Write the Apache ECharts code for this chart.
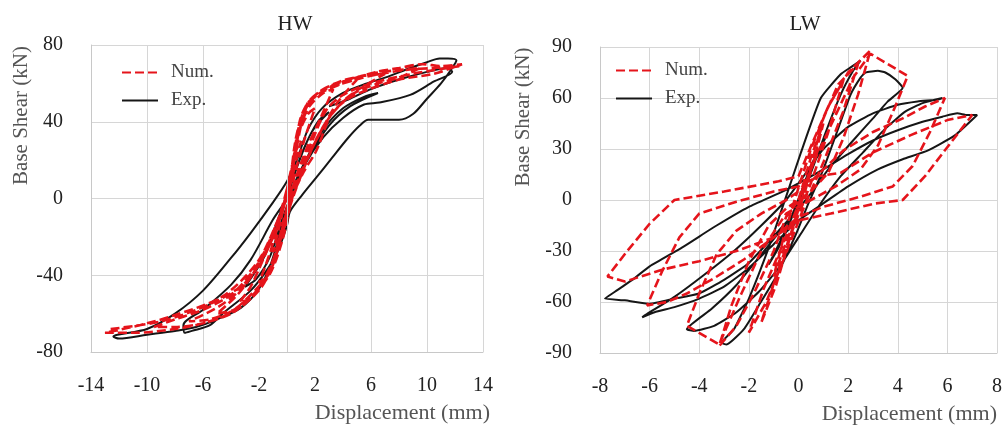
<!DOCTYPE html>
<html>
<head>
<meta charset="utf-8">
<script src="https://cdn.jsdelivr.net/npm/echarts@6/dist/echarts.min.js"></script>
<style>
html,body{margin:0;padding:0;background:#fff;}
#chart{width:1005px;height:430px;}
</style>
</head>
<body>
<div id="chart"></div>
<script>
// ---------- Data ----------
const panelTitles = ['HW', 'LW'];
const seriesNames = ['Num.', 'Exp.'];
const xTitle = 'Displacement (mm)';
const yTitle = 'Base Shear (kN)';

// HW panel: displacement (mm), base shear (kN)
const hwNum = [
  [0,0],[0.4,12],[1,30],
  [0.6,24],[0,5],[-0.4,-10],[-1,-28],
  [-0.6,-22],[0,-6],[0.6,14],[1.3,32],[2,47],
  [1.5,44],[0.8,33],[0.2,10],[-0.5,-10],[-1.2,-28],[-2,-44],
  [-1.5,-40],[-0.8,-28],[-0.2,-10],[0.5,8],[1.4,26],[2.4,42],[3.3,57],
  [2.6,55],[1.6,48],[0.9,36],[0.2,8],[-0.6,-13],[-1.6,-30],[-2.6,-46],[-3.4,-54],
  [-2.6,-52],[-1.4,-40],[-0.5,-20],[0.3,0],[1.4,20],[2.5,36],[3.6,50],[5,62],
  [4,60],[2.8,57],[1.6,50],[0.9,38],[0.2,6],[-0.7,-14],[-1.9,-33],[-3.4,-49],[-5,-60],
  [-3.8,-58],[-2.4,-50],[-1.2,-37],[-0.3,-18],[0.4,2],[1.5,22],[2.8,40],[4.2,52],[5.6,59],[7,65],
  [5.5,64],[3.8,61],[2.2,55],[1.3,46],[0.5,20],[-0.5,-8],[-1.6,-28],[-3,-45],[-4.8,-56],[-7,-64],
  [-5.5,-63],[-3.8,-58],[-2.3,-48],[-1.2,-38],[-0.4,-20],[0.4,0],[1.8,26],[3,42],[4.6,54],[6.5,60],[8,63],[9.5,68],
  [8,67],[6,65],[4,61],[2.6,57],[1.5,50],[0.8,36],[0.1,4],[-0.8,-14],[-2,-33],[-3.8,-49],[-6,-58],[-8,-63],[-9.5,-67],
  [-8,-67],[-6,-65],[-4,-60],[-2.6,-52],[-1.2,-39],[-0.3,-21],[0.4,1],[1.2,14],[2.1,25],[3.1,43],[4,50],[5.2,55],[8,62],[10.5,65],[12.5,70],
  [11,69],[9.7,70],[8,68],[6.4,66],[4.5,62],[3.3,59],[2,53],[1.2,46],[0.6,30],[0.1,4],[-0.7,-12],[-2.1,-33],[-4.6,-51],[-8.1,-61],[-10.5,-66],[-13,-70],
  [-11,-70],[-8,-68],[-5.5,-64],[-3.4,-57],[-1.8,-46],[-0.8,-30],[0,-10],[0.8,12],[1.8,30],[2.8,46],[4,54],[6,60],[9,65],[12.3,69],
  [10.5,68],[8.5,67],[6,64],[4,60],[2.4,55],[1.5,50],[0.9,40],[0.3,12],[-0.5,-10],[-1.5,-28],[-3,-44],[-5.5,-55],[-9,-64],[-12.6,-68]
];
const hwExp = [
  [0,0],[0.8,18],[1.8,35],[3,45],
  [2.2,40],[1.2,26],[0.3,8],[-0.6,-10],[-1.6,-30],[-3,-46],
  [-2.2,-42],[-1.2,-30],[-0.4,-12],[0.5,5],[1.6,22],[3,38],[4.5,48],[6.5,55],
  [5.5,53],[4,47],[2.6,36],[1.2,18],[0,0],[-1,-11],[-2.6,-32],[-4,-45],[-6,-58],[-7.4,-66],[-7.3,-70],[-6.8,-69],
  [-5.5,-66],[-4.6,-60],[-2.6,-48],[-1.5,-38],[-0.7,-28],[0,-14],[0.2,-7],[1.1,2],[2.1,11],[3.2,21],[4.3,31],[5.2,38],[5.8,41],[6.5,41],[8,41],[9,44],[10,52],[11,60],[11.7,67],[12.1,72],
  [11.5,73],[10.9,73],[10,71],[8.8,68],[7,63],[5.7,60],[4,55],[2.5,47],[1.5,36],[0.7,20],[0,9],[-1,-2],[-2.6,-18],[-4,-31],[-6,-48],[-8,-60],[-10,-68],[-12.4,-72],
  [-12,-73],[-10,-71],[-8,-69],[-6.5,-67],[-5,-63],[-3.3,-57],[-2,-47],[-1.1,-33],[-0.4,-15],[0.4,3],[1.3,18],[2.6,32],[4,42],[5.5,49],[6.6,50],[8.8,54],[10.5,61],[11.8,66],
  [11.5,68],[10,66],[8,62],[6,57],[4.5,52],[3,48]
];

// LW panel: displacement (mm), base shear (kN)
const lwNum = [
  [0,0],[0.5,25],[1,45],
  [0.6,22],[0.2,2],[-0.5,-25],[-1,-45],
  [-0.6,-22],[-0.2,-2],[0.5,30],[1.2,55],[2,75],[2.9,88],
  [2.4,62],[1.8,36],[1.2,16],[0.5,5],[0,0],[-0.5,-10],[-1,-30],[-1.8,-55],[-2.5,-74],[-3.2,-86],
  [-2.7,-62],[-2,-36],[-1.2,-15],[-0.5,-5],[0,0],[0.7,25],[1.5,50],[2.2,72],[2.9,86],[4.4,73],
  [3.9,55],[3.2,32],[2.5,18],[1.5,8],[0.5,0],[-0.5,-8],[-1.5,-30],[-2.3,-55],[-2.9,-75],[-3.2,-85],[-4.5,-74],
  [-4,-55],[-3.3,-32],[-2.5,-18],[-1.5,-8],[-0.5,0],[0.3,8],[1,18],[1.8,29],[3,40],[4.2,48],[5.1,55],[5.9,60],
  [5.3,40],[4.6,20],[3.8,8],[2.5,2],[1,-4],[0,-10],[-1,-22],[-2.2,-35],[-3.4,-46],[-4.5,-55],[-5.3,-60],[-6.1,-62],
  [-5.5,-42],[-4.8,-22],[-4,-8],[-2.5,-1],[-1,5],[0,8],[0.8,14],[1.7,16],[3,28],[4.5,38],[6,47],[7,50],
  [6.1,33],[5.1,14],[4.2,0],[3.1,-2],[1.3,-8],[0,-12],[-1,-22],[-2.5,-30],[-4,-36],[-5.5,-41],[-7,-48],[-7.7,-45],
  [-6.9,-30],[-6,-14],[-5,0],[-3,5],[-0.8,11],[0,14],[0.6,35],[1.2,55],[1.8,70],
  [1.2,40],[0.5,10],[-0.3,-20],[-0.9,-50],[-1.5,-72],
  [-0.9,-45],[-0.2,-15],[0.5,20],[1,48],[1.6,68],[2.4,80],
  [1.8,52],[1,22],[0.2,-5],[-0.6,-35],[-1.3,-60],[-2,-78],
  [-1.4,-52],[-0.6,-25],[0.2,5],[0.8,30]
];
const lwExp = [
  [0,0],[0.5,20],[1.2,40],
  [0.8,28],[0.2,8],[-0.4,-14],[-1.2,-38],
  [-0.8,-28],[-0.2,-8],[0.5,16],[1.1,40],[1.7,62],[2.2,76],[2.5,82],
  [2.1,78],[1.7,74],[0.9,60],[0.1,28],[-0.5,2],[-1.2,-28],[-2,-58],[-2.6,-76],[-3.1,-84],
  [-2.9,-85],[-2.2,-76],[-1.6,-62],[-0.9,-45],[-0.1,-20],[0.4,-2],[1,18],[1.6,42],[2.1,62],[2.5,72],[2.7,75],[3.2,76],[3.5,75],[3.9,71],[4.2,66],
  [3.6,58],[3,48],[2.2,35],[1.2,18],[0.4,2],[-0.5,-14],[-1.5,-32],[-2.5,-50],[-3.5,-64],[-4.5,-76],
  [-4.2,-77],[-3.4,-74],[-2.5,-66],[-1.6,-54],[-0.8,-40],[0,-22],[0.8,-4],[1.7,14],[2.6,28],[3.5,42],[4.3,52],[5,57],[5.8,60],
  [5.6,59],[4.8,58],[4,56],[3,51],[2,43],[1,30],[0.3,16],[-0.5,0],[-1.5,-15],[-2.6,-30],[-3.8,-44],[-5,-57],[-6.1,-67],[-6.3,-69],
  [-5.8,-66],[-5,-63],[-4,-58],[-3,-51],[-2,-40],[-1,-26],[0,-12],[1,-2],[2,8],[3.2,18],[4.2,24],[5.2,29],[6.3,38],[7.2,50],
  [6.8,50],[6.4,51],[5.8,49],[5,46],[4,41],[3,35],[2,27],[1,18],[-0.5,6],[-2,-4],[-3.3,-15],[-4.7,-28],[-6,-39],[-6.7,-47],[-7.4,-54],[-7.8,-58],
  [-7,-59],[-6,-61],[-5,-58],[-4,-55],[-3,-47],[-2,-37],[-0.8,-18],[0,-5]
];

// Axis ranges and tick steps
const hwX = {min:-14, max:14, step:4};
const hwY = {min:-80, max:80, step:40};
const lwX = {min:-8, max:8, step:2};
const lwY = {min:-90, max:90, step:30};

// ---------- Chart ----------
const serif = 'Liberation Serif';
const RED = '#e5141b';
const BLACK = '#161616';
const chart = echarts.init(document.getElementById('chart'), null, {renderer:'canvas'});

function xAxisCfg(idx, r, gap) {
  return {
    type:'value', gridIndex:idx, min:r.min, max:r.max, interval:r.step,
    name:xTitle, nameLocation:'end', nameGap:gap,
    nameTextStyle:{fontFamily:serif, fontSize:22, color:'#555', align:'right', verticalAlign:'top', padding:[50,0,0,0]},
    axisLine:{show:true, onZero:false, lineStyle:{color:'#c8c8c8', width:1}},
    axisTick:{show:false},
    axisLabel:{fontFamily:serif, fontSize:20, color:'#222', margin:24},
    splitLine:{show:true, lineStyle:{color:'#d6d6d6', width:1}}
  };
}
function yAxisCfg(idx, r, gap) {
  return {
    type:'value', gridIndex:idx, min:r.min, max:r.max, interval:r.step,
    name:yTitle, nameLocation:'middle', nameGap:gap,
    nameTextStyle:{fontFamily:serif, fontSize:21, color:'#555', padding:[0,0,0,166]},
    axisLine:{show:true, onZero:false, lineStyle:{color:'#c8c8c8', width:1}},
    axisTick:{show:false},
    axisLabel:{fontFamily:serif, fontSize:20, color:'#222', margin:28},
    splitLine:{show:true, lineStyle:{color:'#d6d6d6', width:1}}
  };
}
function numSeries(idx, data, smooth) {
  return {
    name:seriesNames[0], type:'line', xAxisIndex:idx, yAxisIndex:idx, data:data,
    symbol:'none', smooth:smooth, z:3,
    lineStyle:{color:RED, width:2.6, type:[9,4]}, itemStyle:{color:RED}
  };
}
function expSeries(idx, data, smooth, zeroLine) {
  const s = {
    name:seriesNames[1], type:'line', xAxisIndex:idx, yAxisIndex:idx, data:data,
    symbol:'none', smooth:smooth, z:2,
    lineStyle:{color:BLACK, width:2}, itemStyle:{color:BLACK}
  };
  if (zeroLine) {
    s.markLine = {silent:true, symbol:'none', label:{show:false},
      lineStyle:{color:'#d0d0d0', width:1, type:'solid'}, data:[{xAxis:0}]};
  }
  return s;
}

const legendCfg = (left, top) => ({
  left:left, top:top, orient:'vertical', itemWidth:36, itemHeight:14, itemGap:9,
  data:[seriesNames[0], seriesNames[1]],
  itemStyle:{opacity:0},
  textStyle:{fontFamily:serif, fontSize:19, color:'#444', padding:[0,0,0,8]}
});

chart.setOption({
  backgroundColor:'#ffffff',
  animation:false,
  title:[
    {text:panelTitles[0], left:290, top:9, textAlign:'center', textStyle:{fontFamily:serif, fontSize:21, fontWeight:'normal', color:'#222'}},
    {text:panelTitles[1], left:800, top:9, textAlign:'center', textStyle:{fontFamily:serif, fontSize:21, fontWeight:'normal', color:'#222'}}
  ],
  legend:[legendCfg(116, 58), legendCfg(610, 56)],
  grid:[
    {left:91, top:45, width:392, height:307},
    {left:600, top:47, width:400, height:306}
  ],
  xAxis:[xAxisCfg(0, hwX, 7), xAxisCfg(1, lwX, 0)],
  yAxis:[yAxisCfg(0, hwY, 57), yAxisCfg(1, lwY, 66)],
  series:[
    expSeries(0, hwExp, 0.3, true),
    numSeries(0, hwNum, 0.3),
    expSeries(1, lwExp, 0.15, false),
    numSeries(1, lwNum, false)
  ]
});
</script>
</body>
</html>
